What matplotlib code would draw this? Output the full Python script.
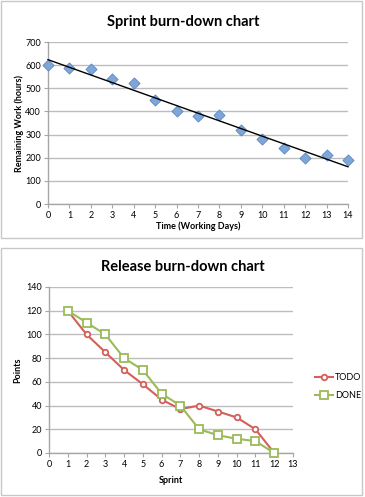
import matplotlib
matplotlib.use("Agg")
import matplotlib.pyplot as plt
import numpy as np
from matplotlib.patches import Rectangle

# Sprint burn-down data
days = list(range(15))
remaining_hours = [600, 588, 583, 538, 522, 450, 400, 380, 383, 320, 282, 240, 200, 210, 188]

# Release burn-down data
sprints = list(range(1, 13))
todo_points = [120, 100, 85, 70, 58, 45, 37, 40, 35, 30, 20, 0]
done_points = [120, 110, 100, 80, 70, 50, 40, 20, 15, 12, 10, 0]

plt.rcParams['font.family'] = ['Lato', 'DejaVu Sans']

GRID = '#bdbdbd'
AXIS = '#a6a6a6'

fig = plt.figure(figsize=(3.65, 4.97), dpi=100)

# panel borders
for (x0, y0, x1, y1) in [(1, 1, 362, 238), (1, 248, 362, 495)]:
    fig.patches.append(Rectangle((x0 / 365, 1 - y1 / 497), (x1 - x0) / 365, (y1 - y0) / 497,
                                 transform=fig.transFigure, fill=False,
                                 edgecolor='#c8c8c8', linewidth=1.0))


def style_axes(ax):
    ax.grid(axis='y', color=GRID, linewidth=1.0)
    ax.set_axisbelow(True)
    for s in ['top', 'right']:
        ax.spines[s].set_visible(False)
    for s in ['left', 'bottom']:
        ax.spines[s].set_color(AXIS)
        ax.spines[s].set_linewidth(1.0)
    ax.tick_params(axis='both', colors=AXIS, length=3, width=0.8, labelsize=6.5,
                   labelcolor='black', pad=2)


# top chart
ax1 = fig.add_axes([48 / 365, 1 - 204 / 497, 300 / 365, 162 / 497])
style_axes(ax1)
ax1.scatter(days, remaining_hours, marker='D', s=32, color='#7fa6d8',
            edgecolors='#5b86c0', linewidths=0.6, zorder=3, clip_on=False)
coef = np.polyfit(days, remaining_hours, 1)
ax1.plot([days[0], days[-1]], np.polyval(coef, [days[0], days[-1]]), color='black',
         linewidth=1.0, zorder=4, clip_on=False)
ax1.set_xlim(0, 14)
ax1.set_ylim(0, 700)
ax1.set_xticks(days)
ax1.set_yticks(range(0, 701, 100))
ax1.set_xlabel('Time (Working Days)', fontsize=6.5, fontweight='bold', labelpad=1)
ax1.set_ylabel('Remaining Work (hours)', fontsize=6.5, fontweight='bold', labelpad=1)
fig.text(183 / 365, 1 - 22 / 497, 'Sprint burn-down chart', ha='center', va='center',
         fontsize=10.5, fontweight='bold')

# bottom chart
ax2 = fig.add_axes([49 / 365, 1 - 453 / 497, 244 / 365, 166 / 497])
style_axes(ax2)
ax2.plot(sprints, todo_points, color='#d45f5b', linewidth=1.5, marker='o', markersize=4,
         markerfacecolor='white', markeredgecolor='#d45f5b', markeredgewidth=1.3,
         label='TODO', zorder=3, clip_on=False)
ax2.plot(sprints, done_points, color='#9bbb59', linewidth=1.5, marker='s', markersize=5.5,
         markerfacecolor='white', markeredgecolor='#9bbb59', markeredgewidth=1.3,
         label='DONE', zorder=4, clip_on=False)
ax2.set_xlim(0, 13)
ax2.set_ylim(0, 140)
ax2.set_xticks(range(0, 14))
ax2.set_yticks(range(0, 141, 20))
ax2.set_xlabel('Sprint', fontsize=6.5, fontweight='bold', labelpad=5)
ax2.set_ylabel('Points', fontsize=6.5, fontweight='bold', labelpad=3)
ax2.legend(loc='center left', bbox_to_anchor=(1.055, 0.40), frameon=False, fontsize=6.5,
           handlelength=2.0, handletextpad=0.3, labelspacing=1.0)
fig.text(183 / 365, 1 - 267 / 497, 'Release burn-down chart', ha='center', va='center',
         fontsize=10.5, fontweight='bold')

fig.savefig('out.png', dpi=100)
